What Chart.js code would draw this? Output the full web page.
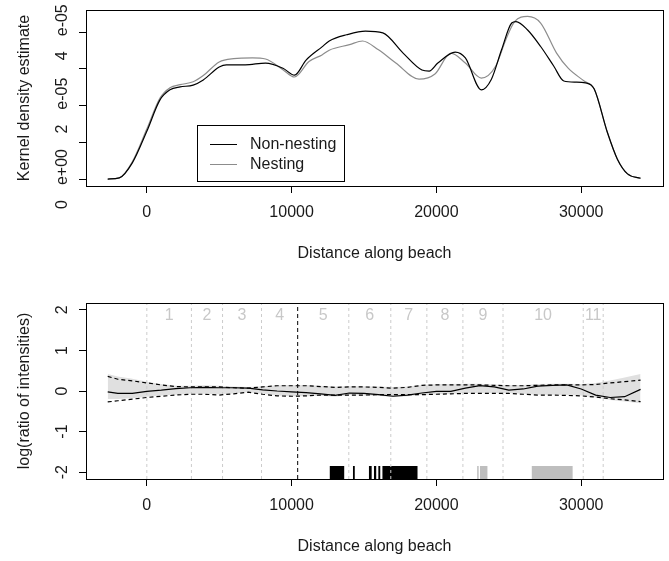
<!DOCTYPE html>
<html>
<head>
<meta charset="utf-8">
<script src="https://cdn.jsdelivr.net/npm/chart.js@4.4.0/dist/chart.umd.min.js"></script>
<style>
  body { margin: 0; background: #fff; }
  #wrap { position: relative; width: 669px; height: 561px; }
  .panel { position: absolute; left: 0; width: 669px; }
</style>
</head>
<body>
<div id="wrap">
  <div class="panel" style="top:0;height:280px"><canvas id="density"></canvas></div>
  <div class="panel" style="top:280px;height:281px"><canvas id="ratio"></canvas></div>
</div>
<script>
// Globals / data
// top panel: kernel density (values in units of 1e-05)
const nonNestingX = [-2700, -1900, -1000, 0, 900, 1600, 2300, 3200, 3900, 5000, 5500, 6800, 8200, 9400, 10200, 11000, 12100, 12600, 13800, 15100, 16300, 17700, 19000, 19500, 20100, 21300, 22000, 23100, 23800, 24500, 25200, 25500, 26300, 27200, 28100, 28800, 29600, 30300, 30900, 31800, 32500, 33200, 34100];
const nonNestingDensity = [0, 0.03, 0.44, 1.3, 2.15, 2.43, 2.51, 2.56, 2.7, 3.05, 3.11, 3.11, 3.16, 3.02, 2.83, 3.24, 3.6, 3.76, 3.93, 4.03, 3.98, 3.43, 2.97, 2.94, 3.16, 3.46, 3.3, 2.43, 2.72, 3.52, 4.25, 4.29, 4.06, 3.61, 3.08, 2.67, 2.64, 2.62, 2.45, 1.28, 0.54, 0.14, 0.02];
const nestingX = [-2700, -1900, -1000, 0, 900, 1600, 2300, 3200, 3900, 5000, 6000, 7300, 8200, 9400, 10200, 11200, 12100, 12600, 14000, 14900, 16000, 17200, 18800, 19900, 21000, 22000, 23100, 24100, 24800, 25400, 26300, 27200, 28300, 29100, 30200, 30900, 31800, 32500, 33200, 34100];
const nestingDensity = [0, 0.03, 0.47, 1.36, 2.2, 2.49, 2.57, 2.65, 2.82, 3.19, 3.28, 3.3, 3.27, 2.98, 2.78, 3.2, 3.38, 3.51, 3.66, 3.76, 3.52, 3.16, 2.72, 2.86, 3.43, 3.16, 2.75, 3.08, 3.8, 4.29, 4.43, 4.25, 3.43, 3.02, 2.67, 2.45, 1.28, 0.54, 0.14, 0.02];
const densityTicks = [0, 1, 2, 3, 4];
const densityTickLabels = ['0e+00', '', '2e-05', '', '4e-05'];

// bottom panel: log ratio of intensities
const ratioX = [-2700, -2000, -1000, 0, 1000, 2000, 3000, 4000, 5000, 6000, 7000, 8000, 9000, 10000, 11000, 12000, 13000, 14000, 15000, 16000, 17000, 18000, 19000, 20000, 21000, 22000, 23000, 24000, 25000, 26000, 27000, 28000, 29000, 30000, 31000, 32000, 33000, 34100];
const logRatio = [-0.02, -0.06, -0.06, -0.01, 0.02, 0.06, 0.08, 0.09, 0.08, 0.08, 0.07, 0.03, 0.0, -0.02, -0.04, -0.07, -0.11, -0.05, -0.06, -0.09, -0.13, -0.1, -0.05, -0.01, -0.01, 0.07, 0.13, 0.1, 0.02, 0.05, 0.12, 0.14, 0.15, 0.05, -0.1, -0.16, -0.14, 0.04];
const envUpper = [0.36, 0.29, 0.25, 0.2, 0.15, 0.11, 0.1, 0.1, 0.1, 0.08, 0.07, 0.1, 0.13, 0.13, 0.13, 0.11, 0.09, 0.1, 0.1, 0.09, 0.07, 0.09, 0.14, 0.15, 0.15, 0.15, 0.15, 0.14, 0.13, 0.13, 0.14, 0.15, 0.15, 0.15, 0.16, 0.2, 0.23, 0.27];
const envLower = [-0.27, -0.24, -0.2, -0.16, -0.13, -0.1, -0.08, -0.08, -0.1, -0.07, -0.03, -0.08, -0.12, -0.13, -0.12, -0.1, -0.1, -0.1, -0.1, -0.09, -0.09, -0.09, -0.09, -0.08, -0.07, -0.06, -0.06, -0.06, -0.06, -0.08, -0.1, -0.1, -0.11, -0.12, -0.15, -0.19, -0.22, -0.26];
const bandUpper = [0.42, 0.36, 0.3, 0.23, 0.17, 0.13, 0.13, 0.14, 0.13, 0.11, 0.1, 0.12, 0.14, 0.15, 0.15, 0.13, 0.11, 0.12, 0.12, 0.11, 0.1, 0.11, 0.15, 0.17, 0.17, 0.18, 0.18, 0.16, 0.15, 0.15, 0.17, 0.18, 0.18, 0.17, 0.2, 0.26, 0.33, 0.42];
const bandLower = [-0.2, -0.2, -0.18, -0.14, -0.11, -0.09, -0.07, -0.07, -0.08, -0.06, -0.03, -0.07, -0.11, -0.13, -0.13, -0.12, -0.14, -0.1, -0.11, -0.12, -0.15, -0.13, -0.1, -0.08, -0.07, -0.05, -0.05, -0.05, -0.05, -0.07, -0.09, -0.09, -0.1, -0.11, -0.16, -0.22, -0.26, -0.3];
const ratioTicks = [-2, -1, 0, 1, 2];
const ratioTickLabels = ['-2', '-1', '0', '1', '2'];

// beach segments and nest rugs
const segmentBreaks = [0, 3080, 5230, 7920, 10420, 13950, 16850, 19340, 21830, 24600, 30140, 31520];
const segmentNames = ['1', '2', '3', '4', '5', '6', '7', '8', '9', '10', '11'];
const markerLine = 10420;
const blackRugStart = [12620, 14230, 15330, 15680, 15980, 16260];
const blackRugEnd = [13650, 14370, 15540, 15860, 16140, 18710];
const greyRugStart = [22810, 23000, 26570];
const greyRugEnd = [22930, 23540, 29420];
const rugTop = -1.85;

const xTicks = [0, 10000, 20000, 30000];

// styles
const FONT = '"Liberation Sans", Arial, sans-serif';
const TXT = '#1a1a1a';
Chart.defaults.font.family = FONT;
Chart.defaults.font.size = 16;
Chart.defaults.color = TXT;

const pts = (xs, ys) => xs.map((x, i) => ({ x: x, y: ys[i] }));

// rotated label, with the wide gap before the exponent part seen in the original
function rotatedLabel(ctx, label) {
    const k = label.indexOf('e');
    if (k < 0) {
        ctx.textAlign = 'center';
        ctx.fillText(label, 0, 0);
        return;
    }
    const head = label.slice(0, k), tail = label.slice(k);
    const gap = 15;
    const w1 = ctx.measureText(head).width, w2 = ctx.measureText(tail).width;
    const start = -(w1 + gap + w2) / 2;
    ctx.textAlign = 'left';
    ctx.fillText(head, start, 0);
    ctx.fillText(tail, start + w1 + gap, 0);
}

// R-like frame, rotated y labels, titles, legend, segment labels
const rFrame = {
    id: 'rFrame',
    afterDraw(chart, args, opts) {
        const { ctx, chartArea: a, scales } = chart;
        ctx.save();
        ctx.strokeStyle = '#000';
        ctx.lineWidth = 1;
        ctx.strokeRect(Math.round(a.left) + 0.5, Math.round(a.top) + 0.5,
            Math.round(a.right - a.left), Math.round(a.bottom - a.top));

        ctx.font = '16px ' + FONT;
        ctx.fillStyle = TXT;
        ctx.textBaseline = 'alphabetic';
        opts.yTicks.forEach((v, i) => {
            const label = opts.yTickLabels[i];
            if (!label) return;
            ctx.save();
            ctx.translate(a.left - 19, scales.y.getPixelForValue(v));
            ctx.rotate(-Math.PI / 2);
            rotatedLabel(ctx, label);
            ctx.restore();
        });
        ctx.textAlign = 'center';
        ctx.save();
        ctx.translate(29, (a.top + a.bottom) / 2);
        ctx.rotate(-Math.PI / 2);
        ctx.fillText(opts.yTitle, 0, 0);
        ctx.restore();

        ctx.textBaseline = 'middle';
        ctx.fillText(opts.xTitle, (a.left + a.right) / 2, a.bottom + 68);

        if (opts.segments) {
            ctx.fillStyle = '#c8c8c8';
            for (let i = 0; i < segmentNames.length; i++) {
                const mid = (segmentBreaks[i] + segmentBreaks[i + 1]) / 2;
                ctx.fillText(segmentNames[i], scales.x.getPixelForValue(mid), scales.y.getPixelForValue(1.87));
            }
        }

        if (opts.legend) {
            const ds = chart.data.datasets;
            const lx = a.left + 111, ly = 125;
            ctx.strokeStyle = '#000';
            ctx.strokeRect(Math.round(lx) + 0.5, ly + 0.5, 147, 56);
            ctx.textAlign = 'left';
            ds.forEach((d, i) => {
                const yy = ly + 19 + i * 20;
                ctx.strokeStyle = d.borderColor;
                ctx.beginPath();
                ctx.moveTo(lx + 13, yy + 0.5);
                ctx.lineTo(lx + 40, yy + 0.5);
                ctx.stroke();
                ctx.fillStyle = TXT;
                ctx.fillText(d.label, lx + 53, yy + 1);
            });
        }
        ctx.restore();
    },
};

function xScale(height) {
    return {
        type: 'linear',
        min: -4200,
        max: 35650,
        afterBuildTicks: (s) => { s.ticks = xTicks.map(v => ({ value: v })); },
        afterFit: (s) => { s.height = height; },
        grid: { drawOnChartArea: false, drawTicks: true, tickLength: 7, color: '#000' },
        border: { display: false },
        ticks: { padding: 10, maxRotation: 0, autoSkip: false, color: TXT, callback: v => String(v) },
    };
}

function yScale(min, max, tickVals) {
    return {
        type: 'linear',
        min: min,
        max: max,
        afterBuildTicks: (s) => { s.ticks = tickVals.map(v => ({ value: v })); },
        afterFit: (s) => { s.width = 86; },
        grid: { drawOnChartArea: false, drawTicks: true, tickLength: 7, color: '#000' },
        border: { display: false },
        ticks: { display: false },
    };
}

// Top: kernel density estimates
new Chart(document.getElementById('density'), {
    type: 'scatter',
    data: {
        datasets: [{
            label: 'Non-nesting',
            data: pts(nonNestingX, nonNestingDensity),
            borderColor: '#000000',
        }, {
            label: 'Nesting',
            data: pts(nestingX, nestingDensity),
            borderColor: '#8c8c8c',
        }].map(d => Object.assign(d, {
            showLine: true, pointRadius: 0, borderWidth: 1.2, cubicInterpolationMode: 'monotone', fill: false,
        })),
    },
    options: {
        responsive: true,
        maintainAspectRatio: false,
        animation: false,
        events: [],
        layout: { padding: { top: 10, right: 6, left: 0, bottom: 0 } },
        scales: { x: xScale(94), y: yScale(-0.19, 4.605, densityTicks) },
        plugins: {
            legend: { display: false },
            tooltip: { enabled: false },
            rFrame: {
                yTicks: densityTicks, yTickLabels: densityTickLabels,
                yTitle: 'Kernel density estimate', xTitle: 'Distance along beach', legend: true,
            },
        },
    },
    plugins: [rFrame],
});

// Bottom: log ratio with envelopes, segments and rugs
const ratioSets = [];
ratioSets.push({ data: pts(ratioX, logRatio), borderColor: '#000', borderWidth: 1.2, order: 1 });
ratioSets.push({ data: pts(ratioX, envUpper), borderColor: '#000', borderWidth: 1.2, borderDash: [4, 3], order: 2 });
ratioSets.push({ data: pts(ratioX, envLower), borderColor: '#000', borderWidth: 1.2, borderDash: [4, 3], order: 2 });
ratioSets.push({ data: [{ x: markerLine, y: -2.17 }, { x: markerLine, y: 2.17 }], borderColor: '#000', borderWidth: 1, borderDash: [4, 3], order: 3 });
segmentBreaks.forEach((b) => {
    if (b === markerLine) return;
    ratioSets.push({ data: [{ x: b, y: -2.17 }, { x: b, y: 2.17 }], borderColor: '#cccccc', borderWidth: 1, borderDash: [3, 3], order: 4 });
});
const bandIdx = ratioSets.length;
ratioSets.push({ data: pts(ratioX, bandUpper), borderWidth: 0, borderColor: 'rgba(0,0,0,0)', backgroundColor: '#e0e0e0', fill: bandIdx + 1, order: 5 });
ratioSets.push({ data: pts(ratioX, bandLower), borderWidth: 0, borderColor: 'rgba(0,0,0,0)', order: 5 });
blackRugStart.forEach((s, i) => {
    ratioSets.push({ data: [{ x: s, y: rugTop }, { x: blackRugEnd[i], y: rugTop }], borderWidth: 0, borderColor: 'rgba(0,0,0,0)', backgroundColor: '#000', fill: 'start', order: 6 });
});
greyRugStart.forEach((s, i) => {
    ratioSets.push({ data: [{ x: s, y: rugTop }, { x: greyRugEnd[i], y: rugTop }], borderWidth: 0, borderColor: 'rgba(0,0,0,0)', backgroundColor: '#bebebe', fill: 'start', order: 6 });
});
ratioSets.forEach(d => Object.assign(d, { showLine: true, pointRadius: 0 }));

new Chart(document.getElementById('ratio'), {
    type: 'scatter',
    data: { datasets: ratioSets },
    options: {
        responsive: true,
        maintainAspectRatio: false,
        animation: false,
        events: [],
        layout: { padding: { top: 23, right: 6, left: 0, bottom: 0 } },
        scales: { x: xScale(82), y: yScale(-2.17, 2.17, ratioTicks) },
        plugins: {
            legend: { display: false },
            tooltip: { enabled: false },
            rFrame: {
                yTicks: ratioTicks, yTickLabels: ratioTickLabels,
                yTitle: 'log(ratio of intensities)', xTitle: 'Distance along beach', segments: true,
            },
        },
    },
    plugins: [rFrame],
});
</script>
</body>
</html>
